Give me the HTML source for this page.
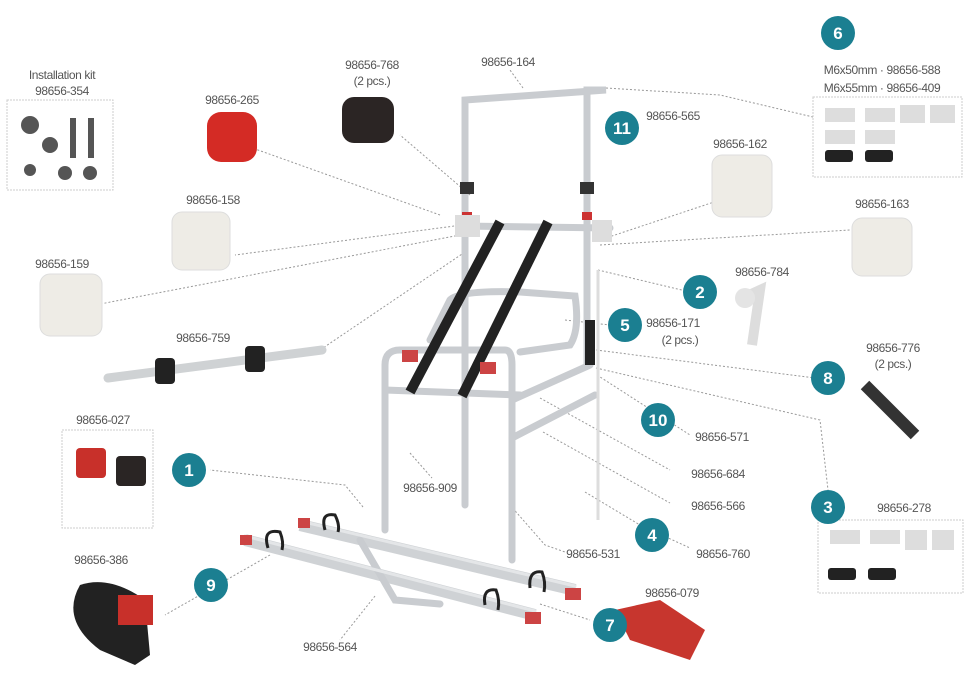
<!DOCTYPE html>
<html><head><meta charset="utf-8"><style>
html,body{margin:0;padding:0;background:#fff}
svg{display:block}
text{font-family:"Liberation Sans",sans-serif;fill:#555;font-size:12px;letter-spacing:-0.4px}
.n{fill:#fff;font-family:"Liberation Sans",sans-serif;font-weight:bold;font-size:17px;letter-spacing:0}
.c{fill:#1b7f91}
.l{stroke:#999;stroke-width:1;stroke-dasharray:2 2;fill:none}
.t{stroke:#c9ccd0;stroke-width:7;fill:none;stroke-linecap:round}
.t2{stroke:#e4e6e8;stroke-width:3;fill:none;stroke-linecap:round}
.r{stroke:#cfd2d5;stroke-width:12;fill:none;stroke-linecap:butt}
</style></head><body>
<svg width="975" height="681" viewBox="0 0 975 681">
<g class="l">
<path d="M606,88 L720,95 L813,117"/>
<path d="M440,215 L230,140"/>
<path d="M470,195 L400,135"/>
<path d="M462,225 L235,255"/>
<path d="M460,235 L95,305"/>
<path d="M468,250 L320,350"/>
<path d="M600,240 L720,200"/>
<path d="M600,245 L850,230"/>
<path d="M598,270 L690,292"/>
<path d="M565,320 L610,325"/>
<path d="M596,350 L815,378"/>
<path d="M596,368 L820,420 L828,490"/>
<path d="M597,375 L690,435"/>
<path d="M540,398 L670,470"/>
<path d="M543,432 L670,503"/>
<path d="M585,492 L640,525 L690,548"/>
<path d="M510,505 L545,545 L565,552"/>
<path d="M363,507 L345,485 L210,470"/>
<path d="M270,555 L165,615"/>
<path d="M375,596 L340,640"/>
<path d="M540,604 L590,620"/>
<path d="M410,453 L432,478"/>
<path d="M523,88 L510,70"/>
</g>
<g>
<path class="t" d="M465,505 L465,100 L606,90 L587,90 L587,365"/>
<path class="t" d="M460,226 L610,228"/>
<path class="t" d="M385,530 L385,365 Q385,350 400,350 L505,350 Q512,350 512,365 L512,560"/>
<path class="t" d="M385,390 L520,395"/>
<path class="t" d="M512,400 L590,365"/>
<path class="t" d="M512,438 L595,395"/>
<path class="t" d="M430,340 L450,300 Q460,290 520,292 L575,296 Q580,330 570,345 L520,352"/>
<path class="r" d="M300,525 L575,590"/>
<path class="r" d="M245,540 L535,615"/>
<path class="t" d="M360,540 L395,600 L440,604"/>
<path class="t2" d="M300,521 L575,586 M245,536 L535,611"/>
<path d="M500,222 L410,392" stroke="#222" stroke-width="10"/>
<path d="M548,222 L462,396" stroke="#222" stroke-width="10"/>
<g fill="none" stroke="#222" stroke-width="3">
<path d="M325,530 Q320,512 335,515 Q340,525 338,532"/>
<path d="M268,548 Q262,528 280,532 Q284,542 282,550"/>
<path d="M530,588 Q528,570 542,572 Q546,582 544,592"/>
<path d="M485,605 Q482,588 496,590 Q500,600 498,610"/>
</g>
<rect x="460" y="182" width="14" height="12" fill="#333"/>
<rect x="580" y="182" width="14" height="12" fill="#333"/>
<rect x="462" y="212" width="10" height="8" fill="#c33"/>
<rect x="582" y="212" width="10" height="8" fill="#c33"/>
<rect x="455" y="215" width="25" height="22" fill="#ddd"/>
<rect x="592" y="220" width="20" height="22" fill="#ddd"/>
<rect x="402" y="350" width="16" height="12" fill="#c44"/>
<rect x="480" y="362" width="16" height="12" fill="#c44"/>
<rect x="565" y="588" width="16" height="12" fill="#c44"/>
<rect x="525" y="612" width="16" height="12" fill="#c44"/>
<rect x="240" y="535" width="12" height="10" fill="#c44"/>
<rect x="298" y="518" width="12" height="10" fill="#c44"/>
<rect x="585" y="320" width="10" height="45" fill="#222"/>
<path d="M598,270 L598,520" stroke="#ddd" stroke-width="3"/>
</g>
<rect x="207" y="112" width="50" height="50" rx="14" fill="#d42b25"/>
<rect x="342" y="97" width="52" height="46" rx="12" fill="#2b2524"/>
<rect x="172" y="212" width="58" height="58" rx="10" fill="#eeece6" stroke="#ddd"/>
<rect x="40" y="274" width="62" height="62" rx="10" fill="#eeece6" stroke="#ddd"/>
<rect x="712" y="155" width="60" height="62" rx="10" fill="#eeece6" stroke="#ddd"/>
<rect x="852" y="218" width="60" height="58" rx="10" fill="#eeece6" stroke="#ddd"/>
<path d="M108,378 L322,350" stroke="#cfd2d4" stroke-width="9" stroke-linecap="round"/>
<rect x="155" y="358" width="20" height="26" rx="4" fill="#222"/>
<rect x="245" y="346" width="20" height="26" rx="4" fill="#222"/>
<path d="M738,300 L760,290 L752,345" stroke="#ddd" stroke-width="10" fill="none"/>
<circle cx="745" cy="298" r="10" fill="#e4e4e4"/>
<path d="M865,385 L915,435" stroke="#333" stroke-width="12"/>
<path d="M80,585 Q60,620 100,650 L135,665 L150,655 L145,600 Q110,575 80,585Z" fill="#222"/>
<rect x="118" y="595" width="35" height="30" fill="#c8302a"/>
<path d="M615,610 L660,600 L705,630 L690,660 L630,640Z" fill="#c7362e"/>
<rect x="76" y="448" width="30" height="30" rx="4" fill="#c8302a"/>
<rect x="116" y="456" width="30" height="30" rx="4" fill="#2a2524"/>
<g fill="#555"><circle cx="30" cy="125" r="9"/><circle cx="50" cy="145" r="8"/><rect x="70" y="118" width="6" height="40"/><rect x="88" y="118" width="6" height="40"/><circle cx="30" cy="170" r="6"/><circle cx="65" cy="173" r="7"/><circle cx="90" cy="173" r="7"/></g>
<g fill="#ddd"><rect x="825" y="108" width="30" height="14"/><rect x="865" y="108" width="30" height="14"/><rect x="900" y="105" width="25" height="18"/><rect x="930" y="105" width="25" height="18"/><rect x="825" y="130" width="30" height="14"/><rect x="865" y="130" width="30" height="14"/><rect x="830" y="530" width="30" height="14"/><rect x="870" y="530" width="30" height="14"/><rect x="905" y="530" width="22" height="20"/><rect x="932" y="530" width="22" height="20"/></g>
<g fill="#222"><rect x="825" y="150" width="28" height="12" rx="3"/><rect x="865" y="150" width="28" height="12" rx="3"/><rect x="828" y="568" width="28" height="12" rx="3"/><rect x="868" y="568" width="28" height="12" rx="3"/></g>
<g fill="none" stroke="#ccc" stroke-dasharray="2 1">
<rect x="7" y="100" width="106" height="90"/>
<rect x="813" y="97" width="149" height="80"/>
<rect x="62" y="430" width="91" height="98"/>
<rect x="818" y="520" width="145" height="73"/>
</g>
<g text-anchor="middle">
<text x="62" y="79">Installation kit</text><text x="62" y="95">98656-354</text>
<text x="372" y="69">98656-768</text><text x="372" y="85">(2 pcs.)</text>
<text x="508" y="66">98656-164</text>
<text x="232" y="104">98656-265</text>
<text x="673" y="120">98656-565</text>
<text x="740" y="148">98656-162</text>
<text x="882" y="74">M6x50mm · 98656-588</text>
<text x="882" y="92">M6x55mm · 98656-409</text>
<text x="213" y="204">98656-158</text>
<text x="882" y="208">98656-163</text>
<text x="62" y="268">98656-159</text>
<text x="762" y="276">98656-784</text>
<text x="673" y="327">98656-171</text><text x="680" y="344">(2 pcs.)</text>
<text x="203" y="342">98656-759</text>
<text x="893" y="352">98656-776</text><text x="893" y="368">(2 pcs.)</text>
<text x="103" y="424">98656-027</text>
<text x="722" y="441">98656-571</text>
<text x="718" y="478">98656-684</text>
<text x="430" y="492">98656-909</text>
<text x="718" y="510">98656-566</text>
<text x="904" y="512">98656-278</text>
<text x="593" y="558">98656-531</text>
<text x="723" y="558">98656-760</text>
<text x="101" y="564">98656-386</text>
<text x="672" y="597">98656-079</text>
<text x="330" y="651">98656-564</text>
</g>
<g text-anchor="middle">
<circle class="c" cx="838" cy="33" r="17"/><text class="n" x="838" y="39">6</text>
<circle class="c" cx="622" cy="128" r="17"/><text class="n" x="622" y="134">11</text>
<circle class="c" cx="700" cy="292" r="17"/><text class="n" x="700" y="298">2</text>
<circle class="c" cx="625" cy="325" r="17"/><text class="n" x="625" y="331">5</text>
<circle class="c" cx="828" cy="378" r="17"/><text class="n" x="828" y="384">8</text>
<circle class="c" cx="658" cy="420" r="17"/><text class="n" x="658" y="426">10</text>
<circle class="c" cx="189" cy="470" r="17"/><text class="n" x="189" y="476">1</text>
<circle class="c" cx="652" cy="535" r="17"/><text class="n" x="652" y="541">4</text>
<circle class="c" cx="828" cy="507" r="17"/><text class="n" x="828" y="513">3</text>
<circle class="c" cx="211" cy="585" r="17"/><text class="n" x="211" y="591">9</text>
<circle class="c" cx="610" cy="625" r="17"/><text class="n" x="610" y="631">7</text>
</g>
</svg>
</body></html>
